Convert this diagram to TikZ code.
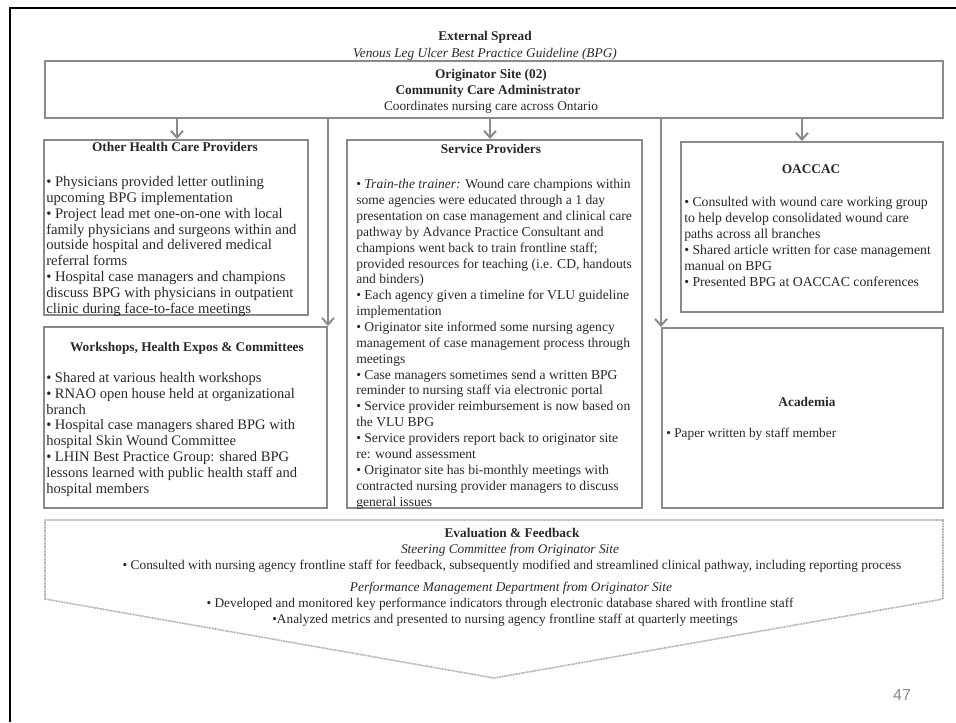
\documentclass[tikz,border=0pt]{standalone}
\usepackage{fontspec}
\setmainfont{Liberation Serif}
\newfontfamily\numfont{Liberation Sans}
\usepackage{tikz}
\usetikzlibrary{arrows.meta, positioning, fit, calc}
\usepackage{xcolor}
\definecolor{cinza}{RGB}{138, 138, 138}
\definecolor{cinzaclaro}{RGB}{168, 168, 168}
\definecolor{tinta}{RGB}{40, 40, 40}
\tikzset{
  bloco/.style={
    draw=cinza, line width=1.5pt, inner sep=0pt
  },
  flecha/.style={draw=cinza, line width=1.5pt, -{Straight Barb[length=5pt, width=9pt]}},
}

\begin{document}
\begin{tikzpicture}[
    x=0.75pt, y=-0.75pt,
    titulo/.style={
        font=\fontsize{10}{11.9}\selectfont\bfseries,
        text=tinta,
        inner sep=0pt,
        text height=7pt,
        text depth=2pt
    },
    linha/.style={
        titulo,
        font=\fontsize{10}{11.9}\selectfont
    },
    lista/.style={
        font=\fontsize{#1}{11.9}\selectfont,
        text=tinta,
        align=left,
        inner sep=0pt,
        anchor=north west
    },
    lista/.default=10
]
\useasboundingbox (0,0) rectangle (956,722);

% moldura do slide
\draw[line width=2pt, black] (10,722) -- (10,8) -- (956,8);

% =================================================
% TOPO
% =================================================

\node[titulo] (ext) at (485,37)
{External Spread};

\node[linha, font=\fontsize{10}{11.9}\selectfont\itshape] (vlu) at (485,54)
{Venous Leg Ulcer Best Practice Guideline (BPG)};

\node[bloco, fit={(45,61) (943,118)}] (orig) {};

\node[titulo] (orig1) at (491,75)
{Originator Site (02)};

\node[titulo] (orig2) at (488,91)
{Community Care Administrator};

\node[linha] (orig3) at (491,107)
{Coordinates nursing care across Ontario};

% =================================================
% CAIXAS
% =================================================

\node[bloco, fit={(44,140) (308,315)}] (outros) {};
\node[bloco, fit={(44,327) (327,508)}] (oficinas) {};
\node[bloco, fit={(347,140) (642,508)}] (servico) {};
\node[bloco, fit={(681,142) (943,312)}] (oaccac) {};
\node[bloco, fit={(662,328) (943,508)}] (academia) {};

\node[titulo] (outrosT) at (175,148)
{Other Health Care Providers};

\node[lista=11] (outrosL) at (46,176)
{• Physicians provided letter outlining\\
upcoming BPG implementation\\
• Project lead met one-on-one with local\\
family physicians and surgeons within and\\
outside hospital and delivered medical\\
referral forms\\
• Hospital case managers and champions\\
discuss BPG with physicians in outpatient\\
clinic during face-to-face meetings};

\node[titulo] (oficinasT) at (187,348)
{Workshops, Health Expos \& Committees};

\node[lista=10.9] (oficinasL) at (46,372)
{• Shared at various health workshops\\
• RNAO open house held at organizational\\
branch\\
• Hospital case managers shared BPG with\\
hospital Skin Wound Committee\\
• LHIN Best Practice Group: shared BPG\\
lessons learned with public health staff and\\
hospital members};

\node[titulo] (servicoT) at (491,150)
{Service Providers};

\node[lista=10.2] (servicoL) at (356,179)
{• \textit{Train-the trainer:} Wound care champions within\\
some agencies were educated through a 1 day\\
presentation on case management and clinical care\\
pathway by Advance Practice Consultant and\\
champions went back to train frontline staff;\\
provided resources for teaching (i.e. CD, handouts\\
and binders)\\
• Each agency given a timeline for VLU guideline\\
implementation\\
• Originator site informed some nursing agency\\
management of case management process through\\
meetings\\
• Case managers sometimes send a written BPG\\
reminder to nursing staff via electronic portal\\
• Service provider reimbursement is now based on\\
the VLU BPG\\
• Service providers report back to originator site\\
re: wound assessment\\
• Originator site has bi-monthly meetings with\\
contracted nursing provider managers to discuss\\
general issues};

\node[titulo] (oaccacT) at (811,170)
{OACCAC};

\node[lista=10.3] (oaccacL) at (684,197)
{• Consulted with wound care working group\\
to help develop consolidated wound care\\
paths across all branches\\
• Shared article written for case management\\
manual on BPG\\
• Presented BPG at OACCAC conferences};

\node[titulo] (academiaT) at (807,403)
{Academia};

\node[lista] (academiaL) at (666,428)
{• Paper written by staff member};

% =================================================
% SETAS
% =================================================

\coordinate (s1) at (177,119);
\coordinate (s2) at (490,119);
\coordinate (s3) at (802,119);
\coordinate (v1) at (328,119);
\coordinate (v2) at (661,119);

\draw[flecha] (s1) -- (s1 |- outros.north);
\draw[flecha] (s2) -- (s2 |- servico.north);
\draw[flecha] (s3) -- (s3 |- oaccac.north);
\draw[flecha] (v1) -- (v1 |- oficinas.north);
\draw[flecha] (v2) -- (v2 |- academia.north);

% =================================================
% AVALIACAO
% =================================================

\draw[cinzaclaro, line width=1.2pt, dash pattern=on 0.7pt off 0.5pt]
  (45,520) -- (943,520) -- (943,599) -- (494,678) -- (45,599) -- cycle;

\node[titulo] (aval) at (512,534)
{Evaluation \& Feedback};

\node[linha, font=\fontsize{10}{11.9}\selectfont\itshape] (aval1) at (510,550)
{Steering Committee from Originator Site};

\node[linha] (aval2) at (512,566)
{• Consulted with nursing agency frontline staff for feedback, subsequently modified and streamlined clinical pathway, including reporting process};

\node[linha, font=\fontsize{10}{11.9}\selectfont\itshape] (aval3) at (511,588)
{Performance Management Department from Originator Site};

\node[linha] (aval4) at (500,604)
{• Developed and monitored key performance indicators through electronic database shared with frontline staff};

\node[linha] (aval5) at (505,620)
{•Analyzed metrics and presented to nursing agency frontline staff at quarterly meetings};

\node[font=\numfont\fontsize{12}{14}\selectfont, text=cinza, inner sep=0pt] (pag) at (902,695)
{47};

\end{tikzpicture}
\end{document}
